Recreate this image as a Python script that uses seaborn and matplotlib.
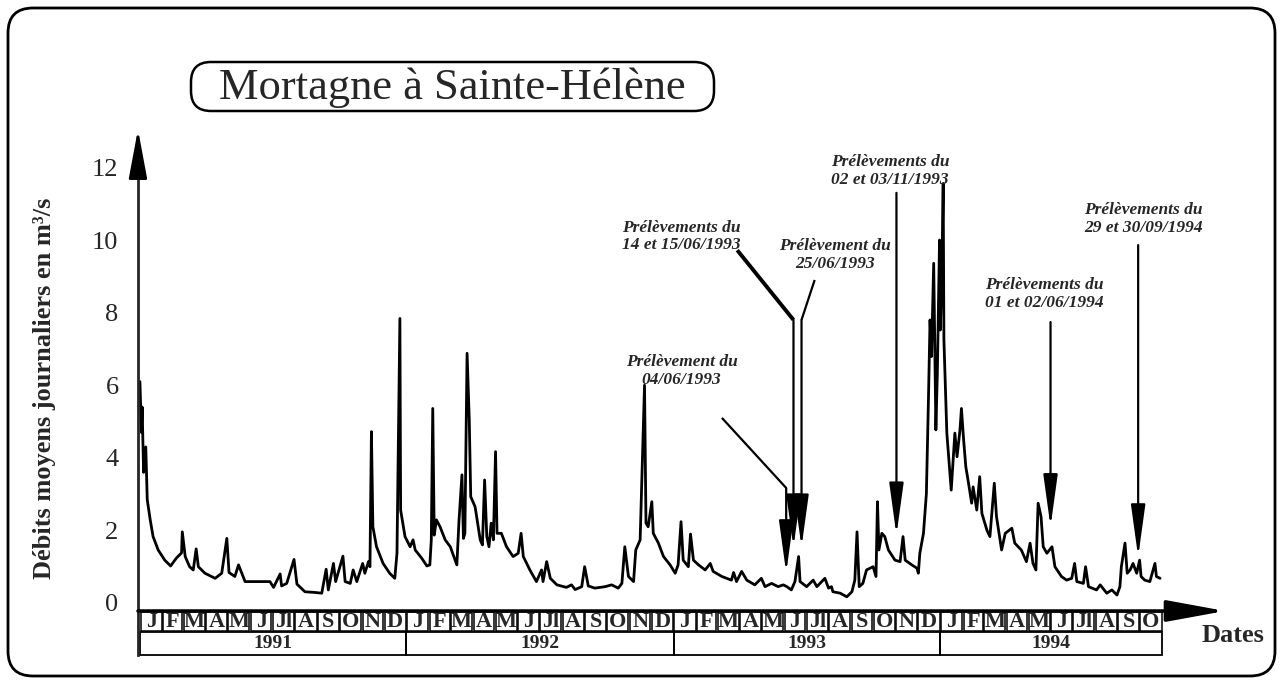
import pandas as pd
import matplotlib
matplotlib.use("Agg")
import matplotlib.pyplot as plt
import matplotlib.dates as mdates
from matplotlib.patches import FancyBboxPatch, Rectangle
import seaborn as sns

# Daily mean discharge read off the scanned hydrograph
# (day offset since 01/01/1991, m3/s)
jours_1991 = [0, 2, 3, 5, 8, 10, 14, 18, 25, 34, 42, 50, 57, 58, 62, 68, 73, 77, 80, 89,
              103, 112, 119, 122, 130, 135, 144, 178, 183, 192, 194, 201, 211, 215, 226,
              240, 249, 255, 258, 265, 268, 278, 281, 288, 292, 297, 305, 308, 313, 315,
              317, 319, 324, 333, 342, 349, 352, 356, 357, 363]
debits_1991 = [6.1, 4.7, 5.4, 3.6, 4.3, 2.85, 2.3, 1.83, 1.46, 1.18, 1.02, 1.24, 1.38, 1.96,
               1.28, 1.0, 0.91, 1.49, 1.0, 0.82, 0.68, 0.82, 1.78, 0.84, 0.73, 1.05, 0.59,
               0.59, 0.43, 0.8, 0.47, 0.54, 1.2, 0.52, 0.31, 0.29, 0.27, 0.93, 0.36, 1.09,
               0.59, 1.29, 0.59, 0.54, 0.91, 0.59, 1.09, 0.82, 1.14, 1.0, 4.72, 2.1, 1.55,
               1.09, 0.82, 0.68, 1.37, 7.84, 2.56, 1.83]

jours_1992 = [370, 374, 377, 386, 393, 397, 399, 401, 403, 406, 411, 418, 425, 434, 437,
              441, 443, 445, 448, 451, 453, 459, 466, 469, 472, 475, 478, 481, 484, 487,
              489, 495, 502, 511, 518, 522, 525, 534, 543, 550, 552, 557, 562, 571, 584,
              591, 596, 605, 609, 614, 623, 637, 646, 655, 660, 664, 669, 676, 679, 685,
              691, 693, 696, 701, 703, 710, 717, 726]
debits_1992 = [1.55, 1.74, 1.46, 1.23, 1.02, 1.05, 1.74, 5.36, 1.87, 2.29, 2.1, 1.74, 1.55,
               1.05, 2.29, 3.53, 1.78, 1.92, 6.88, 5.04, 2.93, 2.65, 1.74, 1.6, 3.39, 1.83,
               1.55, 2.2, 1.74, 4.17, 1.92, 1.92, 1.55, 1.28, 1.37, 1.92, 1.28, 0.91, 0.59,
               0.91, 0.59, 1.14, 0.68, 0.5, 0.43, 0.5, 0.37, 0.45, 1.0, 0.47, 0.41, 0.45,
               0.5, 0.41, 0.54, 1.55, 0.73, 0.59, 1.46, 1.74, 6.0, 2.2, 2.1, 2.79, 1.92,
               1.65, 1.28, 1.05]

jours_1993 = [733, 737, 741, 744, 751, 754, 758, 765, 774, 781, 785, 797, 810, 813, 817,
              824, 831, 842, 851, 856, 865, 874, 881, 886, 892, 897, 902, 904, 913, 922,
              927, 938, 943, 947, 949, 959, 968, 975, 979, 982, 985, 990, 995, 1004, 1008,
              1010, 1012, 1016, 1020, 1025, 1034, 1041, 1045, 1048, 1057, 1064, 1066, 1068,
              1073, 1077, 1080, 1082, 1084, 1087, 1090, 1092]
debits_1993 = [0.82, 1.05, 2.24, 1.18, 1.0, 1.9, 1.18, 1.05, 0.91, 1.09, 0.87, 0.73, 0.63,
               0.84, 0.59, 0.87, 0.63, 0.5, 0.68, 0.45, 0.54, 0.45, 0.5, 0.45, 0.36, 0.59,
               1.28, 0.59, 0.45, 0.63, 0.45, 0.68, 0.41, 0.45, 0.31, 0.27, 0.17, 0.31, 0.63,
               1.96, 0.45, 0.54, 0.91, 1.0, 0.73, 2.79, 1.46, 1.92, 1.83, 1.46, 1.18, 1.14,
               1.83, 1.18, 1.05, 0.96, 0.82, 1.37, 1.92, 3.02, 5.78, 7.8, 6.79, 9.36, 4.77,
               6.33]

jours_1994 = [1095, 1096, 1098, 1100, 1101, 1105, 1111, 1116, 1119, 1123, 1125, 1128, 1131,
              1134, 1139, 1141, 1146, 1150, 1153, 1160, 1164, 1170, 1173, 1180, 1185, 1194,
              1198, 1207, 1214, 1219, 1223, 1227, 1230, 1234, 1237, 1242, 1249, 1253, 1262,
              1269, 1276, 1280, 1283, 1292, 1295, 1299, 1310, 1315, 1324, 1331, 1338, 1342,
              1344, 1349, 1352, 1356, 1360, 1365, 1369, 1371, 1376, 1383, 1390, 1392, 1397]
debits_1994 = [10.0, 7.52, 8.9, 11.56, 7.25, 4.68, 3.11, 4.68, 4.03, 4.77, 5.36, 4.49, 3.75,
               3.39, 2.75, 3.2, 2.56, 3.48, 2.47, 2.0, 1.83, 3.3, 2.38, 1.46, 1.92, 2.06,
               1.65, 1.46, 1.14, 1.65, 1.09, 0.91, 2.75, 2.38, 1.55, 1.37, 1.55, 1.0, 0.73,
               0.63, 0.68, 1.09, 0.59, 0.54, 1.0, 0.45, 0.36, 0.5, 0.27, 0.36, 0.22, 0.45,
               1.0, 1.65, 0.82, 0.91, 1.09, 0.82, 1.18, 0.73, 0.63, 0.59, 1.09, 0.73, 0.68]

mois = ["J", "F", "M", "A", "M", "J", "Jl", "A", "S", "O", "N", "D"]
annees = [1991, 1992, 1993, 1994]
dernier_mois_1994 = 10
y_ticks = [0, 2, 4, 6, 8, 10, 12]

# sampling campaigns (arrow points at the date)
prel_textes = ["Prélèvement du\n04/06/1993", "Prélèvements du\n14 et 15/06/1993",
               "Prélèvement du\n25/06/1993", "Prélèvements du\n02 et 03/11/1993",
               "Prélèvements du\n01 et 02/06/1994", "Prélèvements du\n29 et 30/09/1994"]
prel_dates = ["1993-06-04", "1993-06-14", "1993-06-25", "1993-11-02", "1994-06-01", "1994-09-29"]
prel_pointe = [0.83, 1.54, 1.54, 1.87, 2.1, 1.27]

# label / leader line layout (day offset, value)
txt_pos = [(742, 6.39), (741, 10.1), (952, 9.59), (1027, 11.9), (1239, 8.51), (1374, 10.58)]
ligne_depart = [(797, 5.1), (818, 9.72), (924, 8.9), (None, 11.3), (None, 7.74), (None, 9.86)]
ligne_coude = [3.17, 7.8, 7.8, 11.3, 7.74, 9.86]
ligne_ep = [1.6, 2.8, 1.6, 1.6, 1.6, 1.6]

debut = pd.Timestamp("1991-01-01")
base = mdates.date2num(debut)

jours = jours_1991 + jours_1992 + jours_1993 + jours_1994
debits = debits_1991 + debits_1992 + debits_1993 + debits_1994
df = pd.DataFrame({"date": debut + pd.to_timedelta(jours, unit="D"), "debit": debits})

sns.set_style("white")
plt.rcParams["font.family"] = ["Liberation Serif", "DejaVu Serif"]

fig = plt.figure(figsize=(12.81, 6.83), dpi=100)
ax = fig.add_axes([0.1077, 0.0337, 0.8525, 0.7833])

sns.lineplot(data=df, x="date", y="debit", color="black", lw=2.0, ax=ax)

ax.set_xlim(base - 2.7, base + 1492.8)
ax.set_ylim(-1.57, 13.17)
ax.set_xlabel("")
ax.set_ylabel("")
ax.set_xticks([])
ax.set_yticks(y_ticks)
ax.tick_params(axis="y", direction="out", length=10, width=1.5, labelsize=19, pad=4)
for s in ["top", "right", "bottom"]:
    ax.spines[s].set_visible(False)
ax.spines["left"].set_linewidth(2)
ax.spines["left"].set_bounds(-1.43, 12.5)

# axis arrows
ax.annotate("", xy=(0, 13.05), xytext=(0, 12.3), xycoords=("axes fraction", "data"),
            arrowprops=dict(arrowstyle="-|>,head_length=1.5,head_width=0.28", color="black",
                            lw=2, shrinkA=0, shrinkB=0, mutation_scale=20))
ax.annotate("", xy=(base + 1486, -0.22), xytext=(base - 2.7, -0.22),
            arrowprops=dict(arrowstyle="-|>,head_length=1.8,head_width=0.33", color="black",
                            lw=2.5, shrinkA=0, shrinkB=0, mutation_scale=20))

# month / year boxes
for an in annees:
    n_mois = dernier_mois_1994 if an == 1994 else 12
    for m in range(n_mois):
        d0 = mdates.date2num(pd.Timestamp(an, m + 1, 1))
        d1 = mdates.date2num(pd.Timestamp(an, m + 1, 1) + pd.offsets.MonthBegin(1))
        ax.add_patch(Rectangle((d0 + 1, -0.78), d1 - d0 - 2, 0.52, fill=False,
                               lw=1.1, ec="black"))
        ax.text((d0 + d1) / 2, -0.53, mois[m], ha="center", va="center", fontsize=16,
                fontweight="bold")
    y0 = mdates.date2num(pd.Timestamp(an, 1, 1))
    y1 = mdates.date2num(pd.Timestamp(an, n_mois, 1) + pd.offsets.MonthBegin(1))
    ax.add_patch(Rectangle((y0, -1.43), y1 - y0, 0.63, fill=False, lw=1.3, ec="black"))
    ax.text((y0 + y1) / 2, -1.12, str(an), ha="center", va="center", fontsize=14,
            fontweight="bold")

# sampling arrows
for i, txt in enumerate(prel_textes):
    xt = mdates.date2num(pd.Timestamp(prel_dates[i]))
    tx, ty = txt_pos[i]
    ax.text(base + tx, ty, txt, ha="center", va="center", fontsize=12.5,
            fontstyle="italic", fontweight="bold", linespacing=1.15)
    sx, sy = ligne_depart[i]
    if sx is not None:
        ax.plot([base + sx, xt], [sy, ligne_coude[i]], color="black", lw=ligne_ep[i],
                solid_capstyle="butt")
    ax.annotate("", xy=(xt, prel_pointe[i]), xytext=(xt, ligne_coude[i]),
                arrowprops=dict(arrowstyle="-|>,head_length=1.6,head_width=0.22",
                                color="black", lw=1.6, shrinkA=0, shrinkB=0,
                                mutation_scale=20))

# title, labels and frames (frames placed in inches so corners stay round)
fig.text(0.035, 0.432, "Débits moyens journaliers en m³/s", rotation=90, ha="center",
         va="center", fontsize=19, fontweight="bold")
fig.text(0.9625, 0.069, "Dates", ha="center", va="center", fontsize=19, fontweight="bold")
fig.patches.append(FancyBboxPatch((1.91, 5.72), 5.23, 0.49,
                                  boxstyle="round,pad=0,rounding_size=0.2",
                                  transform=fig.dpi_scale_trans, fill=False, lw=1.8,
                                  ec="black"))
fig.text(0.353, 0.872, "Mortagne à Sainte-Hélène", ha="center", va="center", fontsize=32)
fig.patches.append(FancyBboxPatch((0.08, 0.07), 12.67, 6.68,
                                  boxstyle="round,pad=0,rounding_size=0.25",
                                  transform=fig.dpi_scale_trans, fill=False, lw=2,
                                  ec="black"))

fig.savefig("out.png", dpi=100)
